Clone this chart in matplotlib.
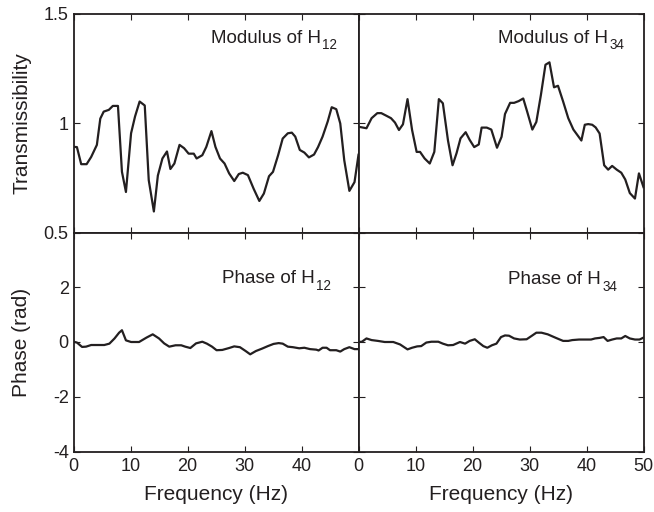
import matplotlib
matplotlib.use("Agg")
import matplotlib.pyplot as plt

plt.rcParams["font.family"] = ["Liberation Sans", "DejaVu Sans"]

INK = "#231f20"

# |H12| and |H34| versus frequency (Hz)
freq_mod12 = [0, 0.6, 1.35, 2.3, 3.1, 4.1, 4.7, 5.3, 6.2, 6.9, 7.8, 8.5, 9.2, 10.1, 10.8,
              11.6, 12.5, 13.2, 14.1, 14.8, 15.6, 16.4, 17.0, 17.7, 18.6, 19.4, 20.2,
              21.1, 21.6, 22.6, 23.3, 24.2, 24.9, 25.7, 26.5, 27.3, 28.2, 29.0, 29.7,
              30.6, 31.6, 32.6, 33.4, 34.3, 35.0, 35.9, 36.7, 37.6, 38.3, 38.9, 39.7,
              40.5, 41.3, 42.2, 42.9, 43.7, 44.6, 45.3, 46.1, 46.8, 47.5, 48.4, 49.3, 50]
mod12 = [0.891, 0.89, 0.812, 0.812, 0.845, 0.90, 1.02, 1.052, 1.06, 1.078, 1.078, 0.777,
         0.685, 0.953, 1.03, 1.098, 1.08, 0.739, 0.596, 0.76, 0.838, 0.87, 0.79, 0.815,
         0.90, 0.885, 0.86, 0.86, 0.838, 0.853, 0.891, 0.963, 0.891, 0.838, 0.815, 0.77,
         0.735, 0.767, 0.773, 0.762, 0.70, 0.644, 0.678, 0.757, 0.777, 0.853, 0.929,
         0.953, 0.956, 0.938, 0.877, 0.865, 0.843, 0.856, 0.89, 0.938, 1.007, 1.072,
         1.063, 0.998, 0.83, 0.69, 0.73, 0.855]

freq_mod34 = [0, 1.4, 2.3, 3.3, 4.0, 4.9, 5.7, 6.4, 7.1, 7.8, 8.6, 9.4, 10.2, 10.8, 11.6,
              12.5, 13.3, 14.1, 14.8, 15.7, 16.5, 17.2, 17.9, 18.8, 19.5, 20.3, 21.1,
              21.6, 22.5, 23.3, 24.3, 25.1, 25.7, 26.6, 27.3, 28.1, 28.9, 29.6, 30.5,
              31.2, 32.0, 32.8, 33.5, 34.3, 35.0, 35.9, 36.8, 37.7, 38.4, 39.1, 39.7,
              40.3, 41.0, 41.6, 42.3, 43.1, 43.8, 44.5, 45.3, 46.1, 46.8, 47.6, 48.5,
              49.2, 50]
mod34 = [0.983, 0.976, 1.022, 1.045, 1.045, 1.033, 1.022, 1.002, 0.968, 0.994, 1.109,
         0.968, 0.868, 0.868, 0.838, 0.815, 0.868, 1.109, 1.09, 0.92, 0.807, 0.862, 0.93,
         0.958, 0.923, 0.89, 0.902, 0.979, 0.979, 0.97, 0.887, 0.937, 1.041, 1.092, 1.092,
         1.10, 1.112, 1.051, 0.97, 1.005, 1.128, 1.266, 1.277, 1.163, 1.17, 1.098, 1.022,
         0.97, 0.945, 0.92, 0.992, 0.995, 0.992, 0.98, 0.952, 0.807, 0.787, 0.804, 0.787,
         0.773, 0.742, 0.68, 0.655, 0.77, 0.707]

# phase of H12 and H34 (rad)
freq_ph12 = [0, 0.6, 1.5, 2.2, 3.1, 4.3, 5.4, 6.3, 7.2, 8.0, 8.5, 9.2, 10.1, 11.5, 12.8,
             13.9, 15.0, 15.9, 16.8, 17.9, 18.9, 19.6, 20.5, 21.5, 22.6, 23.4, 24.3,
             25.1, 26.1, 27.3, 28.2, 29.2, 30.2, 31.0, 32.0, 33.1, 34.1, 35.1, 36.0,
             36.7, 37.6, 38.5, 39.6, 40.5, 41.5, 42.6, 43.0, 43.7, 44.4, 45.0, 46.1,
             46.8, 47.5, 48.4, 49.3, 50]
ph12 = [0.01, -0.02, -0.18, -0.17, -0.11, -0.11, -0.11, -0.06, 0.13, 0.34, 0.43, 0.06,
        0.0, 0.0, 0.16, 0.28, 0.13, -0.05, -0.17, -0.12, -0.12, -0.17, -0.22, -0.05,
        0.01, -0.06, -0.17, -0.30, -0.29, -0.22, -0.16, -0.19, -0.33, -0.45, -0.33,
        -0.24, -0.15, -0.07, -0.04, -0.06, -0.17, -0.19, -0.23, -0.21, -0.26, -0.28,
        -0.31, -0.21, -0.21, -0.30, -0.30, -0.35, -0.26, -0.19, -0.26, -0.26]

freq_ph34 = [0, 0.6, 1.4, 2.3, 3.4, 4.6, 6.1, 7.3, 8.6, 9.4, 10.3, 11.0, 11.9, 12.8, 14.0,
             14.8, 15.7, 16.6, 17.8, 18.7, 19.5, 20.4, 21.1, 21.9, 22.6, 23.4, 24.2,
             25.0, 25.7, 26.4, 27.3, 28.3, 29.5, 30.5, 31.2, 32.1, 33.2, 34.3, 35.2,
             35.9, 36.8, 37.5, 38.7, 39.8, 40.8, 41.5, 42.3, 43.0, 43.7, 44.5, 45.3,
             46.1, 46.8, 47.6, 48.5, 49.3, 50]
ph34 = [0.0, 0.01, 0.13, 0.07, 0.04, 0.0, 0.0, -0.09, -0.27, -0.21, -0.16, -0.15, -0.02,
        0.01, 0.01, -0.06, -0.12, -0.11, 0.0, -0.06, 0.04, 0.10, -0.02, -0.15, -0.21,
        -0.12, -0.06, 0.18, 0.24, 0.23, 0.13, 0.09, 0.10, 0.24, 0.34, 0.34, 0.28, 0.18,
        0.10, 0.04, 0.04, 0.07, 0.09, 0.09, 0.09, 0.13, 0.15, 0.18, 0.04, 0.09, 0.13,
        0.13, 0.22, 0.13, 0.09, 0.09, 0.16]

mod_ticks = [0.5, 1, 1.5]
mod_ticklabels = ["0.5", "1", "1.5"]
phase_ticks = [-4, -2, 0, 2, 4]
phase_ticklabels = ["-4", "-2", "0", "2", ""]
freq_ticks = [0, 10, 20, 30, 40, 50]
freq_left_labels = ["0", "10", "20", "30", "40", ""]
freq_right_labels = ["0", "10", "20", "30", "40", "50"]

TICK_FS = 13
LABEL_FS = 15
NOTE_FS = 13.5

fig = plt.figure(figsize=(6.54, 5.12), dpi=100)
W, H = 654, 512
x0, pw = 73.5, 285
top_y, ph_h = 13.5, 219


def add_panel(col, row):
    left = (x0 + col * pw) / W
    bottom = (H - (top_y + (row + 1) * ph_h)) / H
    return fig.add_axes([left, bottom, pw / W, ph_h / H])


def panel_note(ax, x, y, text, sub):
    # main text plus a hand-placed subscript (larger and lower than mathtext's)
    t = ax.text(x, y, text, transform=ax.transAxes, fontsize=NOTE_FS,
                color=INK, va="baseline")
    ax.annotate(sub, xy=(1, 0), xycoords=t, xytext=(1.2, -1.9),
                textcoords="offset points", fontsize=NOTE_FS * 0.72,
                color=INK, va="baseline", ha="left")


ax_m12 = add_panel(0, 0)
ax_m34 = add_panel(1, 0)
ax_p12 = add_panel(0, 1)
ax_p34 = add_panel(1, 1)

for ax in (ax_m12, ax_m34, ax_p12, ax_p34):
    ax.set_xlim(0, 50)
    ax.set_xticks(freq_ticks)
    ax.tick_params(direction="in", top=True, right=True, length=4, width=0.8,
                   colors=INK, labelsize=TICK_FS)
    ax.tick_params(axis="x", pad=5)
    ax.tick_params(axis="y", pad=3.5)
    for sp in ax.spines.values():
        sp.set_linewidth(1.3)
        sp.set_color(INK)

for ax in (ax_m12, ax_m34):
    ax.set_ylim(0.5, 1.5)
    ax.set_yticks(mod_ticks)
    ax.tick_params(labelbottom=False)
for ax in (ax_p12, ax_p34):
    ax.set_ylim(-4, 4)
    ax.set_yticks(phase_ticks)

ax_m12.set_yticklabels(mod_ticklabels)
ax_p12.set_yticklabels(phase_ticklabels)
ax_m34.tick_params(labelleft=False)
ax_p34.tick_params(labelleft=False)
ax_p12.set_xticklabels(freq_left_labels)
ax_p34.set_xticklabels(freq_right_labels)

lw = 1.6
ax_m12.plot(freq_mod12, mod12, color=INK, lw=lw)
ax_m34.plot(freq_mod34, mod34, color=INK, lw=lw)
ax_p12.plot(freq_ph12, ph12, color=INK, lw=lw)
ax_p34.plot(freq_ph34, ph34, color=INK, lw=lw)

ax_m12.set_ylabel("Transmissibility", fontsize=LABEL_FS, color=INK)
ax_p12.set_ylabel("Phase (rad)", fontsize=LABEL_FS, color=INK)
ax_m12.yaxis.set_label_coords(-0.149, 0.5)
ax_p12.yaxis.set_label_coords(-0.149, 0.5)
for ax in (ax_p12, ax_p34):
    ax.set_xlabel("Frequency (Hz)", fontsize=LABEL_FS, color=INK)
    ax.xaxis.set_label_coords(0.5, -0.155)

panel_note(ax_m12, 0.481, 0.867, "Modulus of H", "12")
panel_note(ax_m34, 0.4905, 0.867, "Modulus of H", "34")
panel_note(ax_p12, 0.52, 0.768, "Phase of H", "12")
panel_note(ax_p34, 0.5235, 0.763, "Phase of H", "34")

fig.savefig("out.png", dpi=100, facecolor="white")
